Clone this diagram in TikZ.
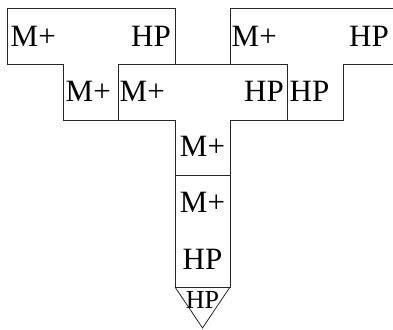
\documentclass[tikz,border=0pt]{standalone}
\usepackage{fontspec}
\setmainfont{Liberation Serif}
\usetikzlibrary{positioning}
\tikzset{
  blk/.style ={draw=black!85, line width=0.8pt, line join=miter},
  lbl/.style ={inner sep=0pt, font=\fontsize{31}{32}\selectfont},
  lbs/.style ={inner sep=0pt, font=\fontsize{26}{27}\selectfont},
}

\begin{document}
\begin{tikzpicture}[x=1pt,y=1pt]
\useasboundingbox (0,0) rectangle (393,329);
% upper left piece (L shape)
\draw[blk] (7,321) -- (175,321) -- (175,265) -- (118,265) -- (118,209)
  -- (63,209) -- (63,265) -- (7,265) -- cycle;
% upper right piece, runs off the right edge
\draw[blk] (393,321) -- (230,321) -- (230,265) -- (287,265) -- (287,209)
  -- (343,209) -- (343,265) -- (393,265);
% middle piece (T shape)
\draw[blk] (118,265) -- (287,265) -- (287,209) -- (230,209) -- (230,153.5)
  -- (175,153.5) -- (175,209) -- (118,209) -- cycle;
\draw[blk, line width=1.4pt] (175,153.5) -- (230,153.5);
% stem and tip
\draw[blk] (175,153.5) -- (175,42) -- (230,42) -- (230,153.5);
\draw[blk] (175,42) -- (202.5,1) -- (230,42);
% labels, top row
\node[lbl, anchor=base west] (m1) at (10.5,282) {M+};
\node[lbl, anchor=base east] (h1) at (171,282) {HP};
\node[lbl, anchor=base west] (m2) at (231.5,282) {M+};
\node[lbl, anchor=base east] (h2) at (389,282) {HP};
% second row
\node[lbl, anchor=base west] (m3) at (65.5,227) {M+};
\node[lbl, anchor=base west] (m4) at (119.5,227) {M+};
\node[lbl, anchor=base east] (h3) at (284,227) {HP};
\node[lbl, anchor=base west] (h4) at (289.5,227) {HP};
% stem
\node[lbl, anchor=base] (m5) at (202.5,172) {M+};
\node[lbl, anchor=base] (m6) at (202.5,116) {M+};
\node[lbl, anchor=base] (h5) at (202.5,59) {HP};
\node[lbs, anchor=base] (h6) at (202.5,21) {HP};
\end{tikzpicture}
\end{document}
